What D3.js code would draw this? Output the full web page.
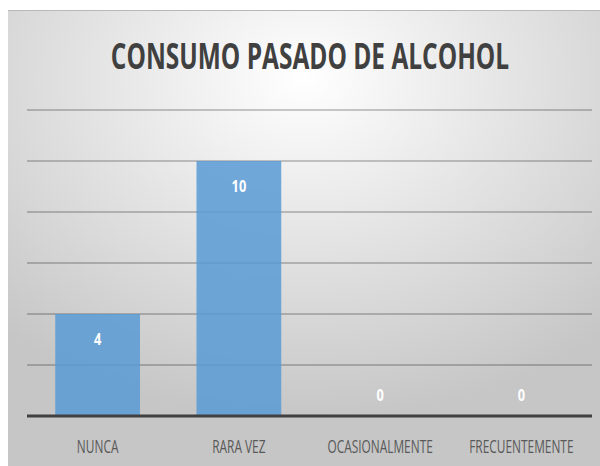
<!DOCTYPE html>
<html>
<head>
<meta charset="utf-8">
<script src="https://cdn.jsdelivr.net/npm/d3@7"></script>
<style>
  body { margin: 0; background: #fff; }
  svg text { font-family: "Open Sans", "Noto Sans", sans-serif; }
</style>
</head>
<body>
<div id="bar_chart"></div>
<script>
var title = "CONSUMO PASADO DE ALCOHOL";
var categories = ["NUNCA", "RARA VEZ", "OCASIONALMENTE", "FRECUENTEMENTE"];
var values = [4, 10, 0, 0];
var yTicks = [0, 2, 4, 6, 8, 10, 12];

function barChart(id) {
    var width = 600, height = 466;
    var margin = {top: 110, right: 8, bottom: 50, left: 27};

    var svg = d3.select("#" + id)
        .html("")
        .append("svg")
        .attr("width", width)
        .attr("height", height);

    // background gradient
    var grad = svg.append("defs").append("radialGradient")
        .attr("id", "bg")
        .attr("cx", "50%").attr("cy", "15%")
        .attr("r", "75%");
    grad.append("stop").attr("offset", "0%").attr("stop-color", "#ffffff");
    grad.append("stop").attr("offset", "100%").attr("stop-color", "#c6c6c6");

    svg.append("rect")
        .attr("x", 8).attr("y", 10)
        .attr("width", width - 8).attr("height", height - 10)
        .attr("fill", "url(#bg)");
    svg.append("line")
        .attr("x1", 8).attr("x2", width)
        .attr("y1", 10.5).attr("y2", 10.5)
        .attr("stroke", "#b8b8b8").attr("stroke-width", 1);

    var x = d3.scaleBand()
        .domain(categories)
        .range([margin.left, width - margin.right])
        .paddingInner(0.4)
        .paddingOuter(0.2);

    var y = d3.scaleLinear()
        .domain([0, d3.max(yTicks)])
        .range([height - margin.bottom, margin.top]);

    // gridlines
    svg.append("g")
        .selectAll("line")
        .data(yTicks.filter(d => d > 0))
        .enter().append("line")
        .attr("x1", margin.left)
        .attr("x2", width - margin.right)
        .attr("y1", d => y(d))
        .attr("y2", d => y(d))
        .attr("stroke", "#000")
        .attr("stroke-opacity", 0.28)
        .attr("stroke-width", 1.5);

    // bars
    svg.append("g")
        .selectAll("rect")
        .data(values)
        .enter().append("rect")
        .attr("x", (d, i) => x(categories[i]))
        .attr("y", d => y(d))
        .attr("width", x.bandwidth())
        .attr("height", d => y(0) - y(d))
        .attr("fill", "#5b9bd5")
        .attr("fill-opacity", 0.86);

    // axis line
    svg.append("line")
        .attr("x1", margin.left)
        .attr("x2", width - margin.right)
        .attr("y1", y(0))
        .attr("y2", y(0))
        .attr("stroke", "#404040")
        .attr("stroke-width", 3);

    // narrow text: squeeze horizontally around its anchor point
    function narrow(g, sx) {
        return g.append("g")
            .attr("transform", d => "translate(" + d.x + "," + d.y + ") scale(" + sx + ",1)")
            .append("text")
            .attr("text-anchor", "middle");
    }

    // value labels
    var valueG = svg.append("g")
        .selectAll("g")
        .data(values.map((v, i) => ({
            v: v,
            x: x(categories[i]) + x.bandwidth() / 2,
            y: v > 0 ? y(v) + 31 : y(0) - 15
        })))
        .enter();
    narrow(valueG, 0.8)
        .attr("fill", "#ffffff")
        .attr("font-weight", "bold")
        .attr("font-size", 16)
        .text(d => d.v);

    // category labels
    var catG = svg.append("g")
        .selectAll("g")
        .data(categories.map(c => ({c: c, x: x(c) + x.bandwidth() / 2, y: 453})))
        .enter();
    narrow(catG, 0.66)
        .attr("fill", "#595959")
        .attr("font-size", 18)
        .text(d => d.c);

    // title
    var titleG = svg.append("g")
        .selectAll("g")
        .data([{t: title, x: 310, y: 69}])
        .enter();
    narrow(titleG, 0.68)
        .attr("fill", "#404040")
        .attr("font-weight", "bold")
        .attr("font-size", 36)
        .text(d => d.t);
}

barChart("bar_chart");
</script>
</body>
</html>
